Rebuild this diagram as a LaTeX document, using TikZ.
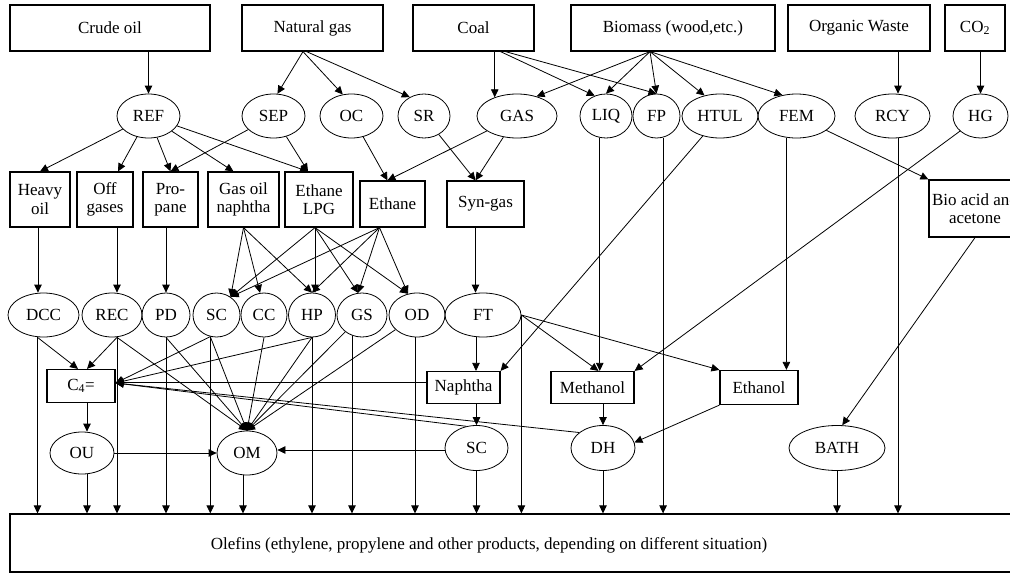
\documentclass[tikz,border=0pt]{standalone}
\usepackage{fontspec}
\setmainfont{Liberation Serif}
\usetikzlibrary{shapes.geometric,arrows.meta}
\begin{document}
\begin{tikzpicture}[x=1pt,y=-1pt,
  every node/.style={font=\fontsize{17}{18.5}\selectfont},
  box/.style={draw, rectangle, line width=1.2pt, inner sep=0pt, align=center},
  topbox/.style={box, minimum height=46pt},
  ell/.style={draw, ellipse, line width=0.8pt, inner sep=0pt, minimum height=44pt},
  arr/.style={-{Triangle[length=8pt,width=7.5pt]}, line width=0.8pt},
  ln/.style={line width=0.8pt}]
\useasboundingbox (0,0) rectangle (1010,573);
% top row
\node[topbox, minimum width=200pt] (crude) at (110,28) {Crude oil};
\node[topbox, minimum width=141pt] (ng) at (312.5,28) {Natural gas};
\node[topbox, minimum width=121pt] (coal) at (473.5,28) {Coal};
\node[topbox, minimum width=204pt] (bio) at (673,28) {Biomass (wood,etc.)};
\node[topbox, minimum width=142pt] (ow) at (859,28) {Organic Waste};
\node[topbox, minimum width=60pt] (co2) at (975,28) {CO\textsubscript{2}};
% second row
\node[ell, minimum width=63pt] (REF) at (148.5,116) {REF};
\node[ell, minimum width=63pt] (SEP) at (273.5,116) {SEP};
\node[ell, minimum width=63pt] (OC) at (351.5,116) {OC};
\node[ell, minimum width=52pt] (SR) at (424,116) {SR};
\node[ell, minimum width=80pt] (GAS) at (517,116) {GAS};
\node[ell, minimum width=52pt] (LIQ) at (606,116) {LIQ};
\node[ell, minimum width=47pt] (FP) at (656.5,116) {FP};
\node[ell, minimum width=76pt] (HTUL) at (720,116) {HTUL};
\node[ell, minimum width=77pt] (FEM) at (796.5,116) {FEM};
\node[ell, minimum width=75pt] (RCY) at (892.5,116) {RCY};
\node[ell, minimum width=55pt] (HG) at (980.5,116) {HG};
% third row
\node[box, minimum width=60pt, minimum height=55pt] (heavy) at (40,199.5) {Heavy\\oil};
\node[box, minimum width=56pt, minimum height=55pt] (off) at (105,199.5) {Off\\gases};
\node[box, minimum width=55pt, minimum height=55pt] (pro) at (170.5,199.5) {Pro-\\pane};
\node[box, minimum width=71pt, minimum height=55pt] (gon) at (243.5,199.5) {Gas oil\\naphtha};
\node[box, minimum width=68pt, minimum height=55pt] (elpg) at (319,199.5) {Ethane\\LPG};
\node[box, minimum width=65pt, minimum height=46pt] (eth) at (392.5,204) {Ethane};
\node[box, minimum width=77pt, minimum height=46pt] (syn) at (485.5,204) {Syn-gas};
\node[box, minimum width=92pt, minimum height=57pt] (bioacid) at (975,208.5) {Bio acid and\\acetone};
% fourth row
\node[ell, minimum width=71pt] (DCC) at (43.5,315) {DCC};
\node[ell, minimum width=60pt] (REC) at (112,315) {REC};
\node[ell, minimum width=48pt] (PD) at (166,315) {PD};
\node[ell, minimum width=47pt] (SC) at (216.5,315) {SC};
\node[ell, minimum width=46pt] (CC) at (264,315) {CC};
\node[ell, minimum width=47pt] (HP) at (312,315) {HP};
\node[ell, minimum width=50pt] (GS) at (362,315) {GS};
\node[ell, minimum width=56pt] (OD) at (417,315) {OD};
\node[ell, minimum width=76pt] (FT) at (483,315) {FT};
% fifth row
\node[box, minimum width=68pt, minimum height=33pt] (C4) at (81,386) {C\textsubscript{4}=};
\node[box, minimum width=73pt, minimum height=32pt] (nap) at (463.5,387.5) {Naphtha};
\node[box, minimum width=83pt, minimum height=32pt] (meth) at (592.5,387.5) {Methanol};
\node[box, minimum width=78pt, minimum height=34pt] (etoh) at (759,387.5) {Ethanol};
% sixth row
\node[ell, minimum width=64pt, minimum height=42pt] (OU) at (82,453) {OU};
\node[ell, minimum width=60pt] (OM) at (247,453) {OM};
\node[ell, minimum width=63pt, minimum height=45pt] (SC2) at (476.5,448) {SC};
\node[ell, minimum width=64pt, minimum height=45pt] (DH) at (603,448) {DH};
\node[ell, minimum width=96pt, minimum height=45pt] (BATH) at (837,448) {BATH};
% bottom
\node[box, minimum width=1015pt, minimum height=58pt] (olef) at (517.5,543) {};
\node (oleft) at (489,545) {Olefins (ethylene, propylene and other products, depending on different situation)};

% ---- edges from top row
\draw[arr] (crude.south -| REF.north) -- (REF.north);
\draw[arr] ([xshift=-9.5]ng.south) -- (SEP.80);
\draw[arr] ([xshift=-9.5]ng.south) -- (OC.112);
\draw[arr] ([xshift=-6]ng.south) -- (SR.127);
\draw[arr] (coal.south -| GAS.140) -- (GAS.140);
\draw[arr] ([xshift=27]coal.south) -- (LIQ.119);
\draw[arr] ([xshift=32]coal.south) -- (FP.north);
\draw[arr] ([xshift=-23]bio.south) -- (GAS.45);
\draw[arr] ([xshift=-23]bio.south) -- (LIQ.north);
\draw[arr] ([xshift=-23]bio.south) -- (FP.north);
\draw[arr] ([xshift=-23]bio.south) -- (HTUL.127);
\draw[arr] ([xshift=-23]bio.south) -- (FEM.124);
\draw[arr] ([xshift=5.5]RCY.north |- ow.south) -- ([xshift=5.5]RCY.north);
\draw[arr] (co2.south -| HG.north) -- (HG.north);
% ---- second row to third row
\draw[arr] (REF) -- (heavy.north);
\draw[arr] (REF) -- ([xshift=13]off.north);
\draw[arr] (REF) -- (pro.north);
\draw[arr] (REF) -- ([xshift=-10]gon.north);
\draw[arr] (REF) -- ([xshift=-11]elpg.north);
\draw[arr] (SEP) -- (pro.north);
\draw[arr] (SEP) -- ([xshift=-11]elpg.north);
\draw[arr] (OC) -- ([xshift=-5]eth.north);
\draw[arr] (GAS) -- ([xshift=-5]eth.north);
\draw[arr] (GAS) -- ([xshift=-10]syn.north);
\draw[arr] (SR) -- ([xshift=-10]syn.north);
% ---- third row to fourth row
\draw[arr] ([xshift=-2]heavy.south) -- ([xshift=-2]heavy.south |- DCC.north);
\draw[arr] ([xshift=5]REC.north |- off.south) -- ([xshift=5]REC.north);
\draw[arr] (pro.south -| PD.north) -- (PD.north);
\draw[arr] (gon.south) -- (SC.52);
\draw[arr] (gon.south) -- (CC.100);
\draw[arr] (gon.south) -- (HP.north);
\draw[arr] ([xshift=-4]elpg.south) -- (SC.52);
\draw[arr] ([xshift=-4]elpg.south) -- ([xshift=-4]elpg.south |- HP.north);
\draw[arr] ([xshift=-4]elpg.south) -- (GS.100);
\draw[arr] ([xshift=-4]elpg.south) -- (OD.113);
\draw[arr] ([xshift=-13]eth.south) -- (SC.52);
\draw[arr] ([xshift=-13]eth.south) -- (HP.north);
\draw[arr] ([xshift=-13]eth.south) -- (GS.100);
\draw[arr] ([xshift=-13]eth.south) -- (OD.113);
\draw[arr] ([xshift=-10]syn.south) -- ([xshift=-10]syn.south |- FT.north);
% ---- long connectors
\draw[arr] (HTUL) -- (nap.north east);
\draw[arr] (HG) -- (meth.north east);
\draw[arr] (FEM) -- (bioacid.north west);
\draw[arr] (bioacid.south) -- (BATH.77);
\draw[arr] (etoh.south west) -- (DH.10);
\draw[arr] (FT.east) -- ([xshift=6]meth.north);
\draw[arr] (FT.east) -- (etoh.north west);
\draw[arr] (LIQ.254) -- (LIQ.254 |- meth.north);
\draw[arr] (FEM.245) -- (FEM.245 |- etoh.north);
\draw[arr] ([xshift=-7]FT.south) -- ([xshift=-7]FT.south |- nap.north);
\draw[arr] (nap.south -| SC2.north) -- (SC2.north);
\draw[arr] (meth.south -| DH.north) -- (DH.north);
% ---- C4= connections
\draw[arr] ([xshift=5]OU.north |- C4.south) -- ([xshift=5]OU.north);
\draw[arr] ([yshift=5]nap.west) -- ([yshift=5]nap.west -| C4.east);
\draw[arr] (SC.254) -- ([yshift=3]C4.east);
\draw[arr] (HP.south) -- ([yshift=3]C4.east);
\draw[arr] (SC2.115) -- ([yshift=3]C4.east);
\draw[arr] (DH.147) -- ([yshift=3]C4.east);
\draw[arr] ([xshift=-6]DCC.south) -- ([xshift=-3]C4.north);
\draw[arr] ([xshift=5]REC.south) -- ([xshift=6]C4.north);
% ---- OM connections
\draw[arr] ([xshift=5]REC.south) -- (OM.north);
\draw[arr] (PD.south) -- (OM.north);
\draw[arr] (SC.254) -- (OM.north);
\draw[arr] (CC.south) -- (OM.north);
\draw[arr] (HP.south) -- (OM.north);
\draw[arr] (GS) -- (OM.north);
\draw[arr] (OD) -- (OM.north);
\draw[arr] (OU) -- (OM);
\draw[arr] ([yshift=-2]SC2.west) -- ([yshift=-2]SC2.west -| OM.east);
% ---- into olefins
\draw[arr] ([xshift=-6]DCC.south) -- ([xshift=-6]DCC.south |- olef.north);
\draw[arr] ([xshift=5]OU.south) -- ([xshift=5]OU.south |- olef.north);
\draw[arr] ([xshift=5]REC.south) -- ([xshift=5]REC.south |- olef.north);
\draw[arr] (PD.south) -- (PD.south |- olef.north);
\draw[arr] (SC.254) -- (SC.254 |- olef.north);
\draw[arr] ([xshift=-4]OM.south) -- ([xshift=-4]OM.south |- olef.north);
\draw[arr] (HP.south) -- (HP.south |- olef.north);
\draw[arr] (GS.244) -- (GS.244 |- olef.north);
\draw[arr] ([xshift=-2]OD.south) -- ([xshift=-2]OD.south |- olef.north);
\draw[arr] (SC2.south) -- (SC2.south |- olef.north);
\draw[arr] (FT.east) -- (FT.east |- olef.north);
\draw[arr] (DH.south) -- (DH.south |- olef.north);
\draw[arr] (FP.287) -- (FP.287 |- olef.north);
\draw[arr] (BATH.south) -- (BATH.south |- olef.north);
\draw[arr] ([xshift=5.5]RCY.south) -- ([xshift=5.5]RCY.south |- olef.north);
\end{tikzpicture}
\end{document}
